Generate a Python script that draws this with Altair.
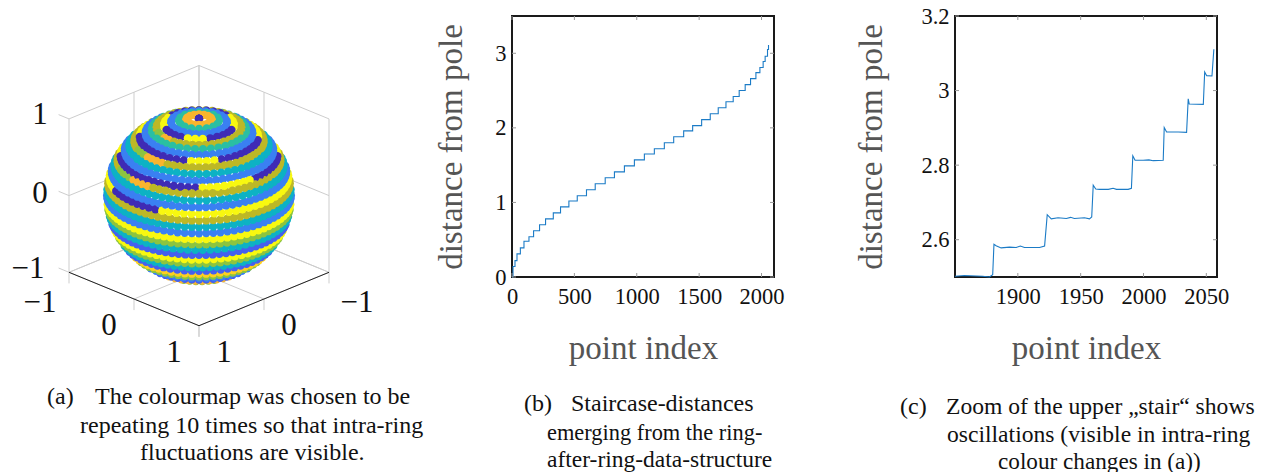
import math
import altair as alt
import pandas as pd

# ---------- staircase, panel (b): where each ring starts, and its distance from the pole
step_index = [0, 8, 24, 40, 67, 96, 136, 173, 221, 269, 331, 389, 456, 523, 597, 667, 747, 821, 901, 981,
              1061, 1141, 1221, 1296, 1376, 1448, 1520, 1589, 1653, 1715, 1773, 1821, 1869, 1912,
              1955, 1987, 2013, 2029, 2048]
step_level = [0.0, 0.14, 0.22, 0.31, 0.39, 0.48, 0.54, 0.62, 0.70, 0.78, 0.86, 0.94, 1.02, 1.09, 1.17,
              1.25, 1.33, 1.41, 1.49, 1.57, 1.65, 1.72, 1.80, 1.88, 1.96, 2.03, 2.11, 2.19, 2.27,
              2.35, 2.42, 2.50, 2.58, 2.66, 2.74, 2.81, 2.89, 2.96, 3.05]
last_index = 2056
last_level = 3.11

# ---------- zoom, panel (c)
zoom_x = [1850, 1857.4, 1872, 1877.4, 1880, 1881, 1882.7, 1886.7, 1893.4, 1898.7, 1902, 1905.3, 1917.3,
          1921.3, 1923.4, 1926.6, 1932, 1938.6, 1942, 1945, 1953, 1957, 1958.8, 1960, 1962, 1965, 1972,
          1975.8, 1978.5, 1987.8, 1990.4, 1991.5, 1993.3, 1999.7, 2004.3, 2007.7, 2015.7, 2016.5,
          2018.4, 2027.7, 2034.3, 2035.6, 2036.4, 2047.6, 2048.7, 2050.3, 2054.5, 2056]
zoom_y = [2.502, 2.504, 2.502, 2.5, 2.506, 2.588, 2.584, 2.578, 2.58, 2.579, 2.583, 2.579, 2.579,
          2.583, 2.667, 2.656, 2.659, 2.657, 2.66, 2.657, 2.659, 2.656, 2.661, 2.746, 2.736, 2.735,
          2.735, 2.738, 2.735, 2.735, 2.738, 2.825, 2.813, 2.813, 2.814, 2.812, 2.813, 2.901, 2.889,
          2.889, 2.888, 2.978, 2.964, 2.963, 3.05, 3.04, 3.039, 3.111]

# ---------- sphere, panel (a): colour of each ring
DK, BL, IN, CY, TE, GR, OL, OR, YE = ("#3F2BB5", "#3A80F2", "#4560EE", "#0DB2C4", "#2ABFA2",
                                      "#8DC43F", "#BDB826", "#F9B52E", "#F8F810")
ring_colours = [DK, OR, TE, BL, DK, OL, TE, BL, YE, OL, CY, BL, YE, OL, CY, BL, YE, OL, CY, BL,
                YE, GR, CY, IN, YE, GR, CY, IN, "#FFD020", GR, BL, IN, OR, GR, BL, IN, OR, GR, BL]
# ring -> (from, to, colour), degrees round the ring, 0 = facing the viewer, + = to the right
ring_patches = {
    4: [(-29, 18, YE), (80, 130, YE), (-130, -80, YE)],
    5: [(-62, -38, OR), (-80, -62, GR)],
    8: [(-90, -14, DK), (21, 90, DK)],
    9: [(-56, -32, OR), (-75, -56, GR)],
    12: [(-90, -1, DK), (43, 90, DK)],
    13: [(-58, -38, OR), (-75, -58, GR)],
    16: [(-70, -25, DK)],
}

# view of the box: px per unit along the floor edges and up the z axis
U, A, C = 65.0, 26.7, 76.7
U0, V0 = 191.0, 256.3


def project(x, y, z):
    return U0 + U * (x - y), V0 + A * (x + y) - C * (z + 1)


rows = []
bounds = step_index + [last_index]
for k, theta in enumerate(step_level):
    n = max(1, bounds[k + 1] - bounds[k])
    for j in range(n):
        phi = 360.0 * j / n - 180.0
        col = ring_colours[k]
        for a, b, c in ring_patches.get(k, []):
            if a <= phi < b:
                col = c
        psi = math.radians(45.0 - phi)
        X, Y, Z = math.sin(theta) * math.cos(psi), math.sin(theta) * math.sin(psi), math.cos(theta)
        depth = C * (X + Y) + 2 * A * Z
        if depth > -3:
            u, v = project(X, Y, Z)
            rows.append((depth, round(u, 2), round(v, 2), col))
rows.sort(key=lambda r: r[0])
sphere_df = pd.DataFrame(rows, columns=["d", "u", "v", "c"])

grid3d = []
for t in (-1, 0, 1):
    grid3d += [((-1, 1, t), (-1, -1, t)), ((-1, -1, t), (1, -1, t))]          # walls, horizontal
    grid3d += [((-1, t, -1), (-1, t, 1)), ((t, -1, -1), (t, -1, 1))]          # walls, vertical
    grid3d += [((t, 1, -1), (t, -1, -1)), ((1, t, -1), (-1, t, -1))]          # floor
    grid3d += [((-1, 1, t), (-1.16, 1, t))]                                   # z ticks
    grid3d += [((t, 1, -1), (t, 1, -1.145)), ((1, t, -1), (1, t, -1.145))]    # floor ticks
front3d = [((-1, 1, -1), (1, 1, -1)), ((1, 1, -1), (1, -1, -1))]


def seg_df(segs):
    out = []
    for p, q in segs:
        a, b = project(*p), project(*q)
        out.append({"u": a[0], "v": a[1], "u2": b[0], "v2": b[1]})
    return pd.DataFrame(out)


SERIF = "Liberation Serif"
XA = alt.Scale(domain=[0, 323])
YA = alt.Scale(domain=[261, 0])


def rules(df, color, w):
    return alt.Chart(df).mark_rule(color=color, strokeWidth=w).encode(
        x=alt.X("u:Q", scale=XA, axis=None), x2="u2:Q",
        y=alt.Y("v:Q", scale=YA, axis=None), y2="v2:Q")


def label(text, px, py, ox, size=24, align="left", color="#111"):
    return alt.Chart(pd.DataFrame({"t": [text]})).mark_text(
        font=SERIF, fontSize=size, align=align, baseline="middle", color=color
    ).encode(x=alt.value(px - ox), y=alt.value(py - 16), text="t:N")


sphere = alt.Chart(sphere_df).mark_circle(size=68, opacity=1).encode(
    x=alt.X("u:Q", scale=XA, axis=None),
    y=alt.Y("v:Q", scale=YA, axis=None),
    color=alt.Color("c:N", scale=None),
    order=alt.Order("d:Q"),
)

OA = 8
tick_a = [("1", 40, 115), ("0", 40, 194), ("\u22121", 28, 269), ("\u22121", 40, 303), ("0", 109, 326),
          ("1", 174, 353), ("\u22121", 357, 303), ("0", 289, 326), ("1", 224, 353)]
caption_a = [("(a)", 47, 397, 24), ("The colourmap was chosen to be", 95, 397, 24),
             ("repeating 10 times so that intra-ring", 80, 426, 24), ("fluctuations are visible.", 140, 453, 24)]
caption_b = [("(b)", 524, 404, 24), ("Staircase-distances", 571, 404, 24),
             ("emerging from the ring-", 547, 433, 22.4), ("after-ring-data-structure", 547, 460, 23.5)]
caption_c = [("(c)", 900, 407, 24), ("Zoom of the upper \u201estair\u201c shows", 946, 407, 23.6),
             ("oscillations (visible in intra-ring", 947, 435, 23.6), ("colour changes in (a))", 998, 462, 23.2)]

panel_a_layers = [rules(seg_df(grid3d), "#cdcdcd", 1), rules(seg_df(front3d), "#222222", 1), sphere]
panel_a_layers += [label(t, x, y, OA, 31, "center") for t, x, y in tick_a]
panel_a_layers += [label(t, x, y, OA, s) for t, x, y, s in caption_a]
panel_a = alt.layer(*panel_a_layers).properties(width=323, height=261)


def plot_panel(df, xdom, ydom, xticks, yticks, caption, ox, title_pad_y):
    sx = alt.Scale(domain=xdom, nice=False, zero=False)
    sy = alt.Scale(domain=ydom, nice=False, zero=False)
    axis_x = alt.Axis(values=xticks, grid=False, ticks=False, domain=False, labelFont=SERIF, labelFontSize=22.5,
                      labelColor="#111", labelPadding=8, format="d", labelFlush=False,
                      title="point index", titleFont=SERIF, titleFontSize=33, titleFontWeight="normal",
                      titleColor="#555555", titlePadding=25)
    axis_y = alt.Axis(values=yticks, grid=False, ticks=False, domain=False, labelFont=SERIF, labelFontSize=22.5,
                      labelColor="#111", labelPadding=6, format="~g", labelFlush=False,
                      title="distance from pole", titleFont=SERIF, titleFontSize=33,
                      titleFontWeight="normal", titleColor="#555555", titlePadding=title_pad_y)
    line = alt.Chart(df).mark_line(color="#1B7BC6", strokeWidth=1.1, interpolate=df.attrs["interp"]).encode(
        x=alt.X("x:Q", scale=sx, axis=axis_x),
        y=alt.Y("y:Q", scale=sy, axis=axis_y),
    )
    tx = pd.DataFrame({"x": xticks})
    ty = pd.DataFrame({"y": yticks})
    layers = [line]
    for a, b in ((0, 4), (257, 261)):
        layers.append(alt.Chart(tx).mark_rule(color="#9a9a9a", strokeWidth=1).encode(
            x=alt.X("x:Q", scale=sx, axis=axis_x), y=alt.value(a), y2=alt.value(b)))
    for a, b in ((0, 4), (258, 262)):
        layers.append(alt.Chart(ty).mark_rule(color="#9a9a9a", strokeWidth=1).encode(
            y=alt.Y("y:Q", scale=sy, axis=axis_y), x=alt.value(a), x2=alt.value(b)))
    layers += [label(t, x, y, ox, s) for t, x, y, s in caption]
    return alt.layer(*layers).properties(
        width=262, height=261, view=alt.ViewBackground(stroke="#1a1a1a", strokeWidth=2))


stairs = pd.DataFrame({"x": step_index + [last_index], "y": step_level + [last_level]})
stairs.attrs["interp"] = "step-after"
zoomed = pd.DataFrame({"x": zoom_x, "y": zoom_y})
zoomed.attrs["interp"] = "linear"

panel_b = plot_panel(stairs, [0, 2100], [0, 3.5], [0, 500, 1000, 1500, 2000], [0, 1, 2, 3], caption_b, 512, 26)
panel_c = plot_panel(zoomed, [1850, 2058.5], [2.5, 3.2], [1900, 1950, 2000, 2050], [2.6, 2.8, 3, 3.2], caption_c, 955, 32)

chart = alt.hconcat(panel_a, panel_b, panel_c, spacing=181, bounds="flush").properties(
    autosize=alt.AutoSizeParams(type="none"),
    padding=alt.Padding(top=8, left=0, right=1247, bottom=448)
).configure_view(strokeWidth=0)

chart.save("out.html", embed_options={"renderer": "svg", "actions": False})
